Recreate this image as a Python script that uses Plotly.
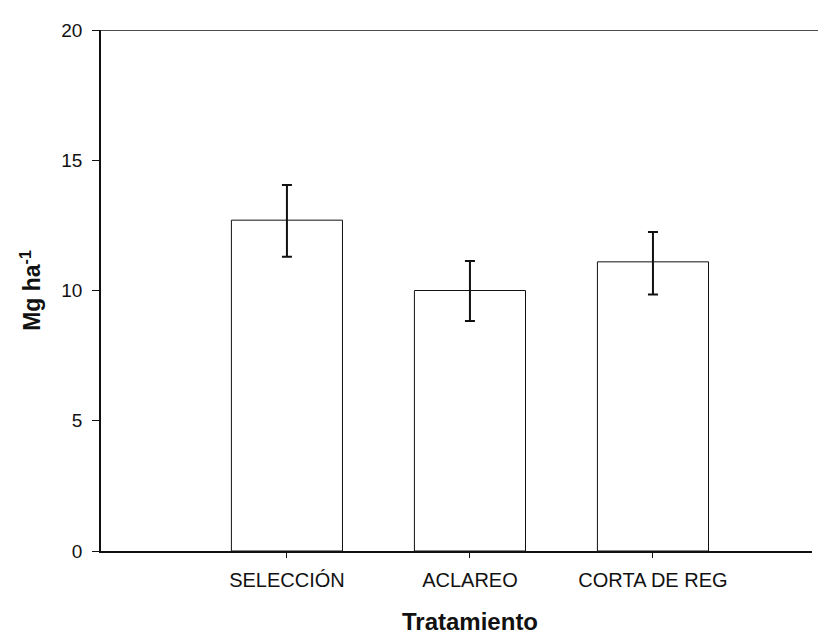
import plotly.graph_objects as go

categories = ["SELECCIÓN", "ACLAREO", "CORTA DE REG"]
values = [12.7, 10.0, 11.1]
err_plus = [1.35, 1.13, 1.15]
err_minus = [1.4, 1.17, 1.25]
y_ticks = [0, 5, 10, 15, 20]

fig = go.Figure()
fig.add_trace(go.Bar(
    x=categories, y=values,
    marker=dict(color="white", line=dict(color="#111", width=1)),
    error_y=dict(type="data", symmetric=False, array=err_plus, arrayminus=err_minus,
                 color="#111", thickness=2, width=5),
    width=0.607,
))

fig.update_layout(
    width=818, height=628,
    margin=dict(l=93, r=14, t=13, b=85),
    paper_bgcolor="white", plot_bgcolor="white",
    showlegend=False,
    font=dict(family="Liberation Sans, Arial, sans-serif", color="#111", size=19),
    xaxis=dict(
        range=[-1.016, 2.869],
        showline=True, linecolor="#111", linewidth=1.5,
        ticks="outside", ticklen=5, tickcolor="#111", tickwidth=1.2,
        showgrid=False, zeroline=False,
        tickfont=dict(size=20),
        ticklabelstandoff=5,
    ),
    yaxis=dict(
        range=[0, 20], tickvals=y_ticks,
        showline=True, linecolor="#111", linewidth=1.5,
        ticks="outside", ticklen=7, tickcolor="#111", tickwidth=1.2,
        showgrid=False, zeroline=False,
        tickfont=dict(size=19),
        ticklabelstandoff=6,
        title=dict(text="<b>Mg ha<sup>-1</sup></b>", font=dict(size=23), standoff=14),
    ),
    annotations=[dict(text="<b>Tratamiento</b>", x=1.0, xref="x", y=-0.136, yref="paper",
                      xanchor="center", yanchor="middle", showarrow=False,
                      font=dict(size=24, color="#111"))],
    shapes=[dict(type="line", xref="paper", yref="y", x0=-0.01, x1=1.03, y0=20, y1=20,
                 line=dict(color="#111", width=1.5))],
)

fig.write_html("out.html")
